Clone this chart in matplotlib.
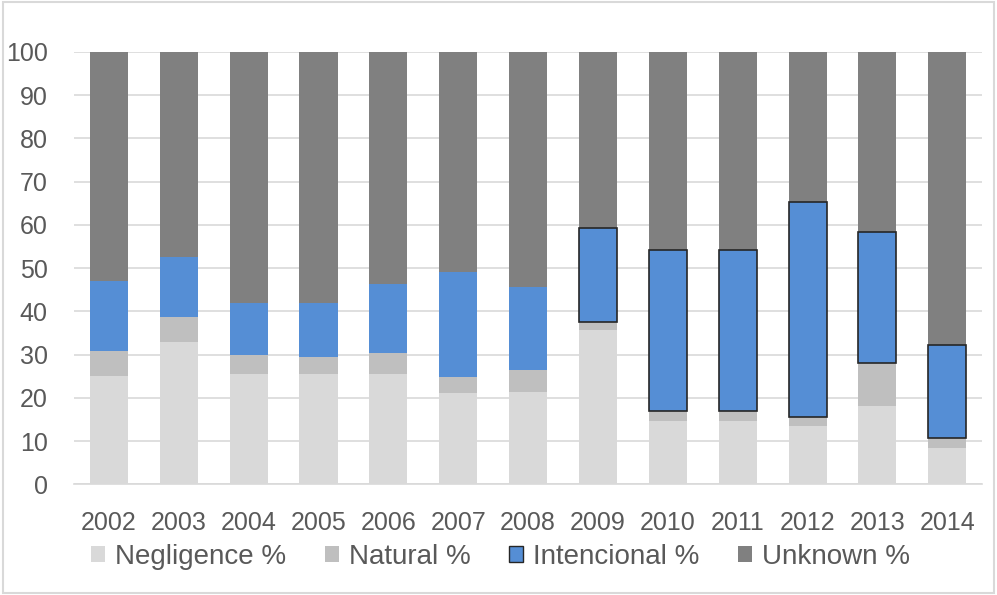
import numpy as np
import matplotlib
matplotlib.use("Agg")
import matplotlib.pyplot as plt
from matplotlib.patches import Rectangle

# data (percent of fires by cause)
years = ["2002", "2003", "2004", "2005", "2006", "2007", "2008",
         "2009", "2010", "2011", "2012", "2013", "2014"]
negligence = [25.0, 32.9, 25.6, 25.6, 25.6, 21.2, 21.4, 35.6, 14.6, 14.6, 13.5, 18.2, 8.4]
natural = [5.9, 5.7, 4.4, 3.9, 4.7, 3.5, 5.1, 2.0, 2.3, 2.3, 2.1, 9.9, 2.2]
intencional = [16.0, 13.9, 11.9, 12.4, 16.0, 24.3, 19.2, 21.7, 37.2, 37.2, 49.6, 30.2, 21.6]
unknown = [53.1, 47.5, 58.1, 58.1, 53.7, 51.0, 54.3, 40.7, 45.9, 45.9, 34.8, 41.7, 67.8]

plt.rcParams["font.family"] = ["Liberation Sans", "DejaVu Sans"]
text_col = "#595959"

fig = plt.figure(figsize=(9.97, 5.95), dpi=100)
ax = fig.add_axes([0.0742, 0.186, 0.911, 0.727])

x = np.arange(len(years))
w = 0.545
neg = np.array(negligence)
nat = np.array(natural)
inten = np.array(intencional)
unk = np.array(unknown)

ax.bar(x, neg, w, color="#d9d9d9", label="Negligence %", zorder=2)
ax.bar(x, nat, w, bottom=neg, color="#bfbfbf", label="Natural %", zorder=2)
# later years have an outline on the intentional segment
edges = ["none"] * 7 + ["#262626"] * 6
ax.bar(x, inten, w, bottom=neg + nat, color="#558ed5", edgecolor=edges,
       linewidth=1.2, label="Intencional %", zorder=3)
ax.bar(x, unk, w, bottom=neg + nat + inten, color="#808080",
       label="Unknown %", zorder=2)

ax.set_xlim(-0.5, len(years) - 0.5)
ax.set_ylim(0, 100)
ax.set_yticks(range(0, 101, 10))
ax.set_xticks(x)
ax.set_xticklabels(years)
ax.yaxis.grid(True, color="#d9d9d9", linewidth=1.2, zorder=0)
ax.set_axisbelow(True)
for s in ["top", "right", "left"]:
    ax.spines[s].set_visible(False)
ax.spines["bottom"].set_color("#d9d9d9")
ax.spines["bottom"].set_linewidth(1.2)
ax.tick_params(axis="both", length=0, labelsize=18, colors=text_col)
ax.tick_params(axis="y", pad=19)
ax.tick_params(axis="x", pad=19)

# legend handles: small squares, only the blue one outlined
h_neg = Rectangle((0, 0), 1, 1, facecolor="#d9d9d9")
h_nat = Rectangle((0, 0), 1, 1, facecolor="#bfbfbf")
h_int = Rectangle((0, 0), 1, 1, facecolor="#558ed5", edgecolor="#262626", linewidth=1)
h_unk = Rectangle((0, 0), 1, 1, facecolor="#808080")
leg = fig.legend([h_neg, h_nat, h_int, h_unk],
                 ["Negligence %", "Natural %", "Intencional %", "Unknown %"],
                 loc="center", bbox_to_anchor=(0.502, 0.064), ncol=4,
                 frameon=False, fontsize=20, handlelength=0.5, handleheight=0.5,
                 handletextpad=0.35, columnspacing=1.4, borderpad=0)
for t in leg.get_texts():
    t.set_color(text_col)

# light frame around the whole chart
fig.patches.append(Rectangle((0.003, 0.003), 0.994, 0.994, transform=fig.transFigure,
                             fill=False, edgecolor="#d9d9d9", linewidth=1.5))

fig.savefig("out.png", dpi=100)
